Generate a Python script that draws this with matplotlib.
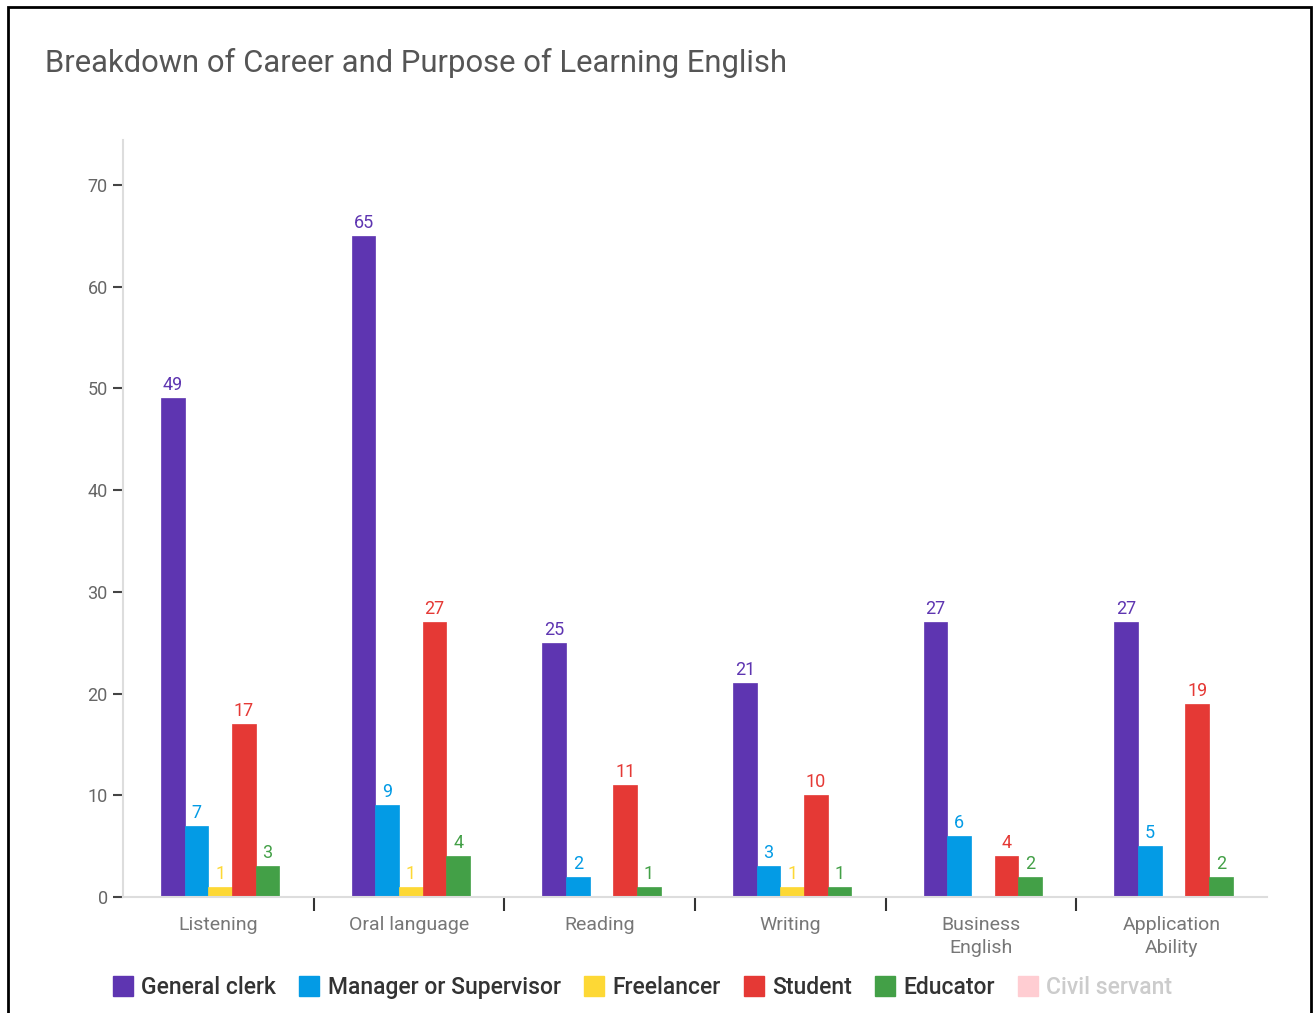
import numpy as np
import matplotlib.pyplot as plt
from matplotlib.patches import Rectangle
from matplotlib.lines import Line2D

# data
categories = ["Listening", "Oral language", "Reading", "Writing", "Business\nEnglish", "Application\nAbility"]
series_names = ["General clerk", "Manager or Supervisor", "Freelancer", "Student", "Educator", "Civil servant"]
general_clerk = [49, 65, 25, 21, 27, 27]
manager = [7, 9, 2, 3, 6, 5]
freelancer = [1, 1, 0, 1, 0, 0]
student = [17, 27, 11, 10, 4, 19]
educator = [3, 4, 1, 1, 2, 2]
civil_servant = [0, 0, 0, 0, 0, 0]

colors = ["#5E35B1", "#039BE5", "#FDD835", "#E53935", "#43A047", "#FFCDD2"]
all_series = [general_clerk, manager, freelancer, student, educator, civil_servant]

plt.rcParams['font.family'] = ['Roboto', 'DejaVu Sans']

fig = plt.figure(figsize=(13.14, 10.13), dpi=100)
ax = fig.add_axes([0.0936, 0.1145, 0.8706, 0.7473])

x = np.arange(len(categories))
w = 0.124
for k, vals in enumerate(all_series):
	if k == 5:
		continue  # hidden series
	pos = x - 0.3 + w/2 + k*w
	for p, v in zip(pos, vals):
		if v == 0:
			continue
		ax.bar(p, v, width=w, color=colors[k], edgecolor=colors[k], linewidth=0.5)
		ax.text(p, v + 0.4, str(v), ha='center', va='bottom', color=colors[k], fontsize=13)

ax.set_xlim(-0.5, len(categories) - 0.5)
ax.set_ylim(0, 74.4)
ax.set_yticks(range(0, 71, 10))
ax.tick_params(axis='y', labelcolor='#666666', labelsize=13, length=7, width=1.5, pad=4, color='#444444')

# category labels as minor ticks, separators as major ticks
ax.set_xticks(x[:-1] + 0.5)
ax.set_xticklabels([])
ax.tick_params(axis='x', which='major', length=10, width=1.5, color='#333333', direction='out')
ax.set_xticks(x, minor=True)
ax.set_xticklabels(categories, minor=True, fontsize=14, color='#777777', linespacing=1.3)
ax.tick_params(axis='x', which='minor', length=0, pad=14)

for s in ['top', 'right']:
	ax.spines[s].set_visible(False)
ax.spines['left'].set_color('#dddddd')
ax.spines['left'].set_linewidth(1.5)
ax.spines['bottom'].set_color('#dddddd')
ax.spines['bottom'].set_linewidth(1.5)

fig.text(0.034, 0.938, "Breakdown of Career and Purpose of Learning English", fontsize=22.3,
	color='#555555', ha='left', va='center')

handles = [Line2D([], [], marker='s', linestyle='none', markersize=15,
	markerfacecolor=c, markeredgecolor=c) for c in colors]
leg = fig.legend(handles, series_names, loc='center left', bbox_to_anchor=(0.069, 0.025),
	ncol=6, frameon=False, handletextpad=0.3, columnspacing=0.95, handlelength=1,
	prop={'size': 16.5, 'weight': 'medium'})
for i, t in enumerate(leg.get_texts()):
	t.set_color('#cccccc' if i == 5 else '#333333')

# outer frame
fig.patches.append(Rectangle((0.006, -0.01), 0.992, 1.003, transform=fig.transFigure,
	fill=False, edgecolor='black', linewidth=2))

fig.savefig("out.png", dpi=100)
